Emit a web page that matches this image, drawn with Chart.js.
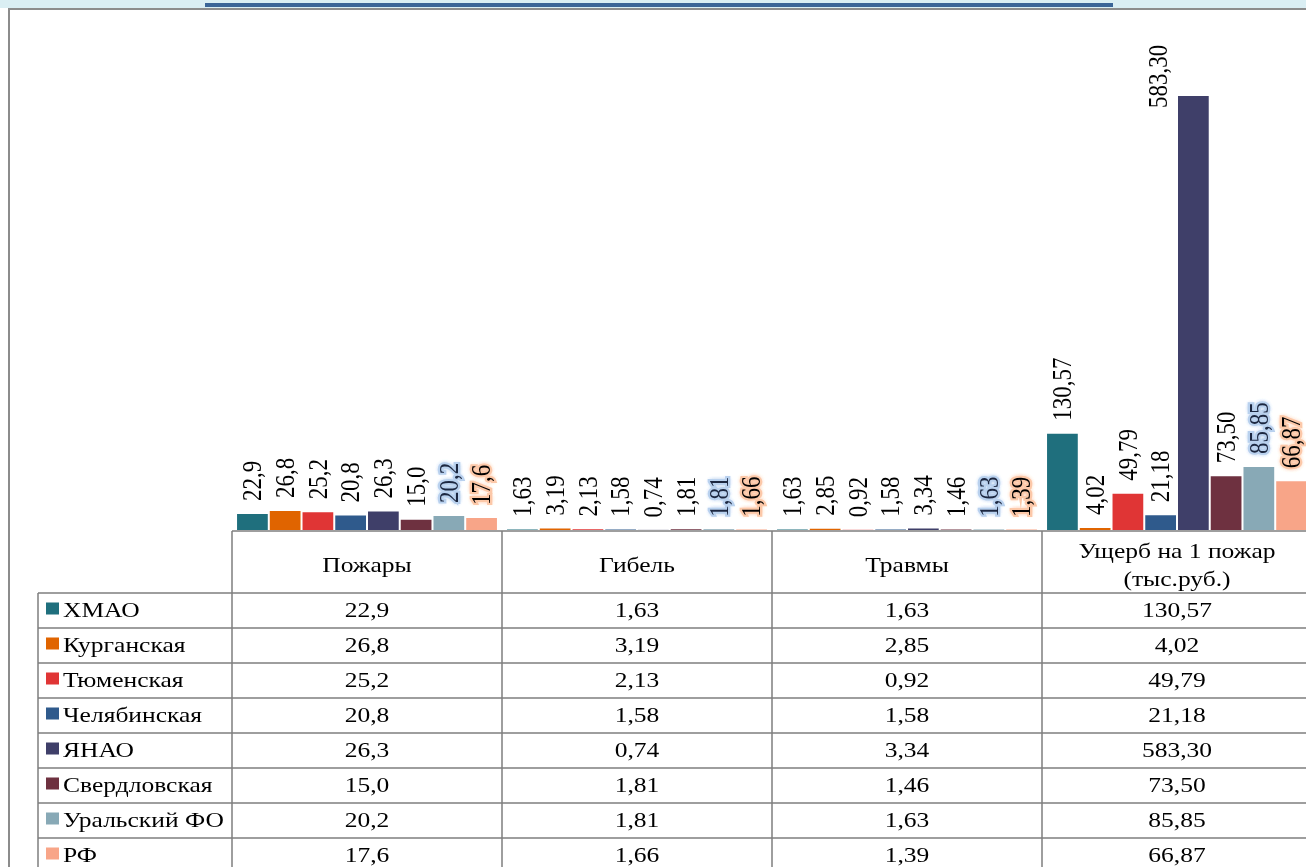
<!DOCTYPE html>
<html>
<head>
<meta charset="utf-8">
<script src="https://cdn.jsdelivr.net/npm/chart.js@4.4.1/dist/chart.umd.min.js"></script>
<style>
  html, body { margin: 0; padding: 0; background: #fff; overflow: hidden; }
  canvas { display: block; }
</style>
</head>
<body>
<canvas id="fireChart" width="1312" height="867"></canvas>
<script>
const categories = [['Пожары'], ['Гибель'], ['Травмы'], ['Ущерб на 1 пожар', '(тыс.руб.)']];
const decimals = [1, 2, 2, 2];
const regions = ['ХМАО', 'Курганская', 'Тюменская', 'Челябинская', 'ЯНАО', 'Свердловская', 'Уральский ФО', 'РФ'];
const colors = ['#1f6f7d', '#e06400', '#e03535', '#2f5a8c', '#3f3f69', '#6e3140', '#88a9b6', '#f8a588'];
const glow = [null, null, null, null, null, null, '#b9d1ee', '#fcc8a8'];

const hmao = [22.9, 1.63, 1.63, 130.57];
const kurgan = [26.8, 3.19, 2.85, 4.02];
const tyumen = [25.2, 2.13, 0.92, 49.79];
const chelyab = [20.8, 1.58, 1.58, 21.18];
const yanao = [26.3, 0.74, 3.34, 583.30];
const sverdl = [15.0, 1.81, 1.46, 73.50];
const uralFO = [20.2, 1.81, 1.63, 85.85];
const rf = [17.6, 1.66, 1.39, 66.87];
const seriesValues = [hmao, kurgan, tyumen, chelyab, yanao, sverdl, uralFO, rf];

const fmt = (v, i) => v.toFixed(decimals[i]).replace('.', ',');
const SERIF = '"Liberation Serif", "Times New Roman", serif';
const STRETCH = 1.16; // the source picture is a little wider than tall

// text drawn with the horizontal stretch of the original
function putText(ctx, txt, x, y) {
    ctx.save();
    ctx.translate(x, y);
    ctx.scale(STRETCH, 1);
    ctx.fillText(txt, 0, 0);
    ctx.restore();
}

const frame = {
    id: 'frame',
    beforeDraw(chart) {
        const ctx = chart.ctx;
        ctx.save();
        ctx.fillStyle = '#fff';
        ctx.fillRect(0, 0, chart.width, chart.height);
        ctx.fillStyle = '#daeef3';
        ctx.fillRect(0, 0, chart.width, 8);
        ctx.fillStyle = '#3b6597';
        ctx.fillRect(205, 3, 908, 4);
        ctx.fillStyle = '#8c8c8c';
        ctx.fillRect(8, 8, chart.width, 2);
        ctx.fillRect(8, 8, 2, chart.height);
        ctx.restore();
    }
};

const barLabels = {
    id: 'barLabels',
    afterDatasetsDraw(chart) {
        const ctx = chart.ctx;
        const top = chart.chartArea.top;
        ctx.save();
        ctx.font = '23px ' + SERIF;
        ctx.textAlign = 'left';
        ctx.textBaseline = 'alphabetic';
        chart.data.datasets.forEach((ds, di) => {
            chart.getDatasetMeta(di).data.forEach((bar, i) => {
                const txt = fmt(ds.data[i], i);
                const w = ctx.measureText(txt).width;
                let x = bar.x, y = bar.y - 12;
                if (y - w < top + 30) {
                    x = bar.x - bar.width - 2;
                    y = top + 100;
                }
                ctx.save();
                ctx.translate(x, y);
                ctx.scale(STRETCH, 1);
                ctx.rotate(-Math.PI / 2);
                if (glow[di]) {
                    ctx.shadowColor = glow[di];
                    ctx.shadowBlur = 5;
                    ctx.fillStyle = glow[di];
                    for (let k = 0; k < 4; k++) ctx.fillText(txt, 0, 7.5);
                    ctx.shadowBlur = 0;
                    ctx.lineWidth = 4;
                    ctx.strokeStyle = glow[di];
                    ctx.strokeText(txt, 0, 7.5);
                }
                ctx.fillStyle = di === 6 ? '#1c2740' : '#000';
                ctx.fillText(txt, 0, 7.5);
                ctx.restore();
            });
        });
        ctx.restore();
    }
};

const dataTable = {
    id: 'dataTable',
    afterDraw(chart) {
        const ctx = chart.ctx;
        const xs = chart.scales.x;
        const area = chart.chartArea;
        const cw = (area.right - area.left) / categories.length;
        const headTop = area.bottom + 1;
        const headBottom = 593;
        const rowH = 35;
        const tableLeft = 38;
        ctx.save();
        ctx.strokeStyle = '#7f7f7f';
        ctx.lineWidth = 1.5;
        ctx.beginPath();
        ctx.moveTo(area.left, headTop);
        ctx.lineTo(chart.width, headTop);
        for (let r = 0; r <= regions.length; r++) {
            const y = headBottom + r * rowH;
            ctx.moveTo(tableLeft, y);
            ctx.lineTo(chart.width, y);
        }
        ctx.moveTo(tableLeft, headBottom);
        ctx.lineTo(tableLeft, chart.height);
        categories.forEach((c, i) => {
            const lx = xs.getPixelForValue(i) - cw / 2;
            ctx.moveTo(lx, headTop);
            ctx.lineTo(lx, chart.height);
        });
        ctx.stroke();

        ctx.font = '22px ' + SERIF;
        ctx.fillStyle = '#000';
        ctx.textAlign = 'center';
        ctx.textBaseline = 'middle';
        categories.forEach((c, i) => {
            const cx = xs.getPixelForValue(i);
            const mid = (headTop + headBottom) / 2 + 4;
            const lh = 28;
            c.forEach((line, k) => {
                putText(ctx, line, cx, mid + (k - (c.length - 1) / 2) * lh);
            });
            seriesValues.forEach((vals, r) => {
                putText(ctx, fmt(vals[i], i), cx, headBottom + r * rowH + rowH / 2 + 1);
            });
        });

        ctx.textAlign = 'left';
        regions.forEach((name, r) => {
            const cy = headBottom + r * rowH + rowH / 2;
            ctx.fillStyle = colors[r];
            ctx.fillRect(46, cy - 8, 13, 12);
            ctx.fillStyle = '#000';
            putText(ctx, name, 63, cy + 1);
        });
        ctx.restore();
    }
};

new Chart(document.getElementById('fireChart'), {
    type: 'bar',
    data: {
        labels: categories,
        datasets: regions.map((name, i) => ({
            label: name,
            data: seriesValues[i],
            backgroundColor: colors[i],
            borderColor: 'rgba(255,255,255,0.55)',
            borderWidth: 1,
            categoryPercentage: 0.97,
            barPercentage: 1.0
        }))
    },
    options: {
        responsive: false,
        animation: false,
        layout: { padding: { left: 232, right: 0, top: 8, bottom: 337 } },
        plugins: { legend: { display: false }, tooltip: { enabled: false }, title: { display: false } },
        scales: {
            x: { display: false },
            y: { display: false, min: 0, max: 700 }
        }
    },
    plugins: [frame, barLabels, dataTable]
});
</script>
</body>
</html>
